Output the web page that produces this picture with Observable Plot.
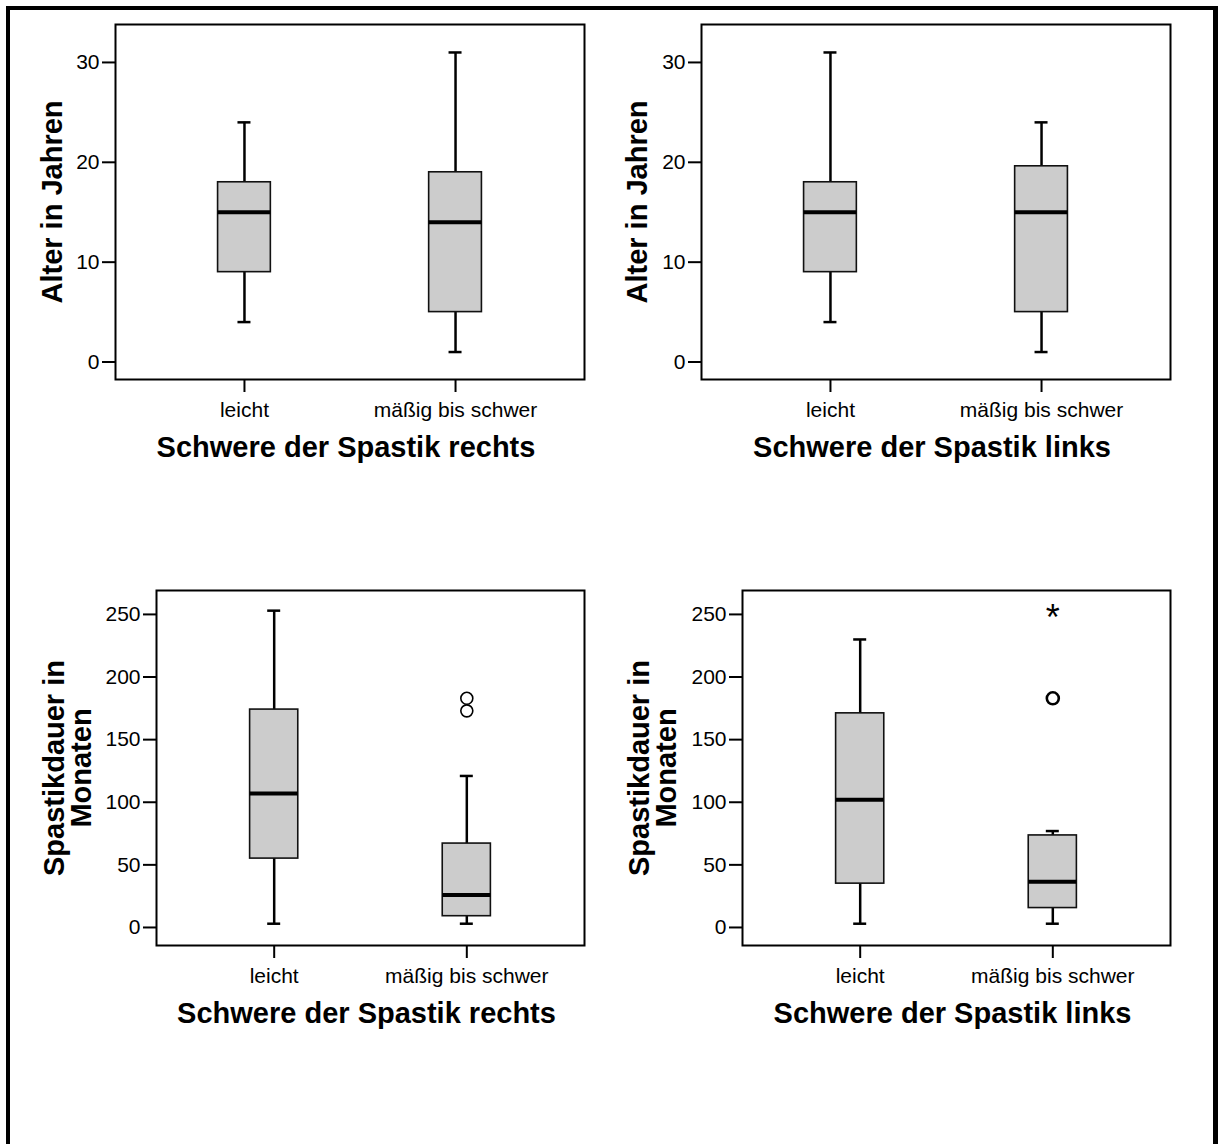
<!DOCTYPE html>
<html>
<head>
<meta charset="utf-8">
<script src="https://cdn.jsdelivr.net/npm/d3@7"></script>
<script src="https://cdn.jsdelivr.net/npm/@observablehq/plot@0.6"></script>
<style>
  html, body { margin: 0; padding: 0; background: #fff; overflow: hidden; }
  #page { position: relative; width: 1218px; height: 1144px; overflow: hidden; }
  #border { position: absolute; left: 6px; top: 6px; width: 1203px; height: 1200px;
            border-left: 4px solid #000; border-top: 4px solid #000; border-right: 5px solid #000; }
  .panel { position: absolute; }
  .panel svg { overflow: visible; }
</style>
</head>
<body>
<div id="page">
  <div id="border"></div>
  <div class="panel" id="p1" style="left:0px;top:0px"></div>
  <div class="panel" id="p2" style="left:600px;top:0px"></div>
  <div class="panel" id="p3" style="left:0px;top:570px"></div>
  <div class="panel" id="p4" style="left:600px;top:570px"></div>
</div>
<script>
// ---------- data ----------
const categories = ["leicht", "mäßig bis schwer"];

const alterTicks = [0, 10, 20, 30];
const dauerTicks = [0, 50, 100, 150, 200, 250];

const alterLabel = "Alter in Jahren";
const dauerLabel = "Spastikdauer in\nMonaten";
const rechtsLabel = "Schwere der Spastik rechts";
const linksLabel = "Schwere der Spastik links";

// Alter in Jahren vs. Schwere der Spastik rechts
const alterRechtsLow = [4, 1];
const alterRechtsQ1 = [9, 5];
const alterRechtsMedian = [15, 14];
const alterRechtsQ3 = [18, 19];
const alterRechtsHigh = [24, 31];

// Alter in Jahren vs. Schwere der Spastik links
const alterLinksLow = [4, 1];
const alterLinksQ1 = [9, 5];
const alterLinksMedian = [15, 15];
const alterLinksQ3 = [18, 19.6];
const alterLinksHigh = [31, 24];

// Spastikdauer vs. Schwere der Spastik rechts
const dauerRechtsLow = [3, 3];
const dauerRechtsQ1 = [55, 9];
const dauerRechtsMedian = [107, 26];
const dauerRechtsQ3 = [174, 67];
const dauerRechtsHigh = [253, 121];
const dauerRechtsOutlierCat = ["mäßig bis schwer", "mäßig bis schwer"];
const dauerRechtsOutlierValue = [183, 173];

// Spastikdauer vs. Schwere der Spastik links
const dauerLinksLow = [3, 3];
const dauerLinksQ1 = [35, 15.5];
const dauerLinksMedian = [102, 36.5];
const dauerLinksQ3 = [171, 73.5];
const dauerLinksHigh = [230, 77];
const dauerLinksOutlierCat = ["mäßig bis schwer"];
const dauerLinksOutlierValue = [183];
const dauerLinksExtremeCat = ["mäßig bis schwer"];
const dauerLinksExtremeValue = [253];

// ---------- drawing ----------
const FONT = "'Liberation Sans', Arial, Helvetica, sans-serif";

function rowsOf(low, q1, med, q3, high) {
  return categories.map((c, i) => ({cat: c, low: low[i], q1: q1[i], med: med[i], q3: q3[i], high: high[i]}));
}

function panel(cfg) {
  const rows = rowsOf(...cfg.stats);
  const frameW = cfg.width - cfg.marginLeft - cfg.marginRight;
  const step = frameW / (2 - 0.75 + 2 * 0.486);
  const bw = step * 0.25;
  const capInset = (bw - 13) / 2;
  const marks = [
    Plot.ruleX(rows, {x: "cat", y1: "low", y2: "high", stroke: "#000", strokeWidth: 2.5}),
    Plot.tickY(rows, {x: "cat", y: "low", stroke: "#000", strokeWidth: 2.5, insetLeft: capInset, insetRight: capInset}),
    Plot.tickY(rows, {x: "cat", y: "high", stroke: "#000", strokeWidth: 2.5, insetLeft: capInset, insetRight: capInset}),
    Plot.barY(rows, {x: "cat", y1: "q1", y2: "q3", fill: "#cccccc", stroke: "#111", strokeWidth: 1.6}),
    Plot.tickY(rows, {x: "cat", y: "med", stroke: "#000", strokeWidth: 4}),
  ];
  if (cfg.outliers) {
    const o = cfg.outliers.cat.map((c, i) => ({cat: c, value: cfg.outliers.value[i]}));
    marks.push(Plot.dot(o, {x: "cat", y: "value", r: 6, stroke: "#000", strokeWidth: cfg.outlierStroke || 2, fill: "none"}));
  }
  if (cfg.extremes) {
    const e = cfg.extremes.cat.map((c, i) => ({cat: c, value: cfg.extremes.value[i]}));
    marks.push(Plot.text(e, {x: "cat", y: "value", text: () => "*", fontSize: 36, lineAnchor: "middle", dy: 8, fill: "#000"}));
  }
  marks.push(
    Plot.frame({stroke: "#000", strokeWidth: 2}),
    Plot.axisY({ticks: cfg.ticks, tickFormat: d3.format("d"), tickSize: 13, tickPadding: 3, fontSize: 21, strokeWidth: 2, label: null}),
    Plot.axisX({tickSize: 13, tickPadding: 10, fontSize: 21, strokeWidth: 2, label: null}),
    Plot.text([cfg.xlabel], {frameAnchor: "bottom", text: d => d, dy: 68, dx: -4, fontSize: 29, fontWeight: "bold", lineAnchor: "middle", fill: "#000"}),
    Plot.text([cfg.ylabel], {frameAnchor: "left", text: d => d, rotate: -90, dx: cfg.ylabelDx, fontSize: 29, fontWeight: "bold", lineAnchor: "middle", textAnchor: "middle", lineHeight: 0.95, fill: "#000"})
  );
  return Plot.plot({
    width: cfg.width, height: cfg.height,
    marginLeft: cfg.marginLeft, marginRight: cfg.marginRight,
    marginTop: cfg.marginTop, marginBottom: cfg.marginBottom,
    style: {fontFamily: FONT, color: "#000", background: "transparent", overflow: "visible"},
    x: {type: "band", domain: categories, paddingInner: 0.75, paddingOuter: 0.486, round: false, label: null},
    y: {domain: cfg.yDomain, label: null},
    marks
  });
}

document.getElementById("p1").append(panel({
  width: 600, height: 480, marginLeft: 115, marginRight: 16, marginTop: 24, marginBottom: 101,
  stats: [alterRechtsLow, alterRechtsQ1, alterRechtsMedian, alterRechtsQ3, alterRechtsHigh],
  yDomain: [-1.75, 33.8], ticks: alterTicks, xlabel: rechtsLabel, ylabel: alterLabel, ylabelDx: -62
}));
document.getElementById("p2").append(panel({
  width: 618, height: 480, marginLeft: 101, marginRight: 48, marginTop: 24, marginBottom: 101,
  stats: [alterLinksLow, alterLinksQ1, alterLinksMedian, alterLinksQ3, alterLinksHigh],
  yDomain: [-1.75, 33.8], ticks: alterTicks, xlabel: linksLabel, ylabel: alterLabel, ylabelDx: -63
}));
document.getElementById("p3").append(panel({
  width: 600, height: 480, marginLeft: 156, marginRight: 16, marginTop: 20, marginBottom: 105,
  stats: [dauerRechtsLow, dauerRechtsQ1, dauerRechtsMedian, dauerRechtsQ3, dauerRechtsHigh],
  outliers: {cat: dauerRechtsOutlierCat, value: dauerRechtsOutlierValue}, outlierStroke: 1.6,
  yDomain: [-14.4, 269.1], ticks: dauerTicks, xlabel: rechtsLabel, ylabel: dauerLabel, ylabelDx: -88
}));
document.getElementById("p4").append(panel({
  width: 618, height: 480, marginLeft: 142, marginRight: 48, marginTop: 20, marginBottom: 105,
  stats: [dauerLinksLow, dauerLinksQ1, dauerLinksMedian, dauerLinksQ3, dauerLinksHigh],
  outliers: {cat: dauerLinksOutlierCat, value: dauerLinksOutlierValue}, outlierStroke: 2.6,
  extremes: {cat: dauerLinksExtremeCat, value: dauerLinksExtremeValue},
  yDomain: [-14.4, 269.1], ticks: dauerTicks, xlabel: linksLabel, ylabel: dauerLabel, ylabelDx: -89
}));
</script>
</body>
</html>
